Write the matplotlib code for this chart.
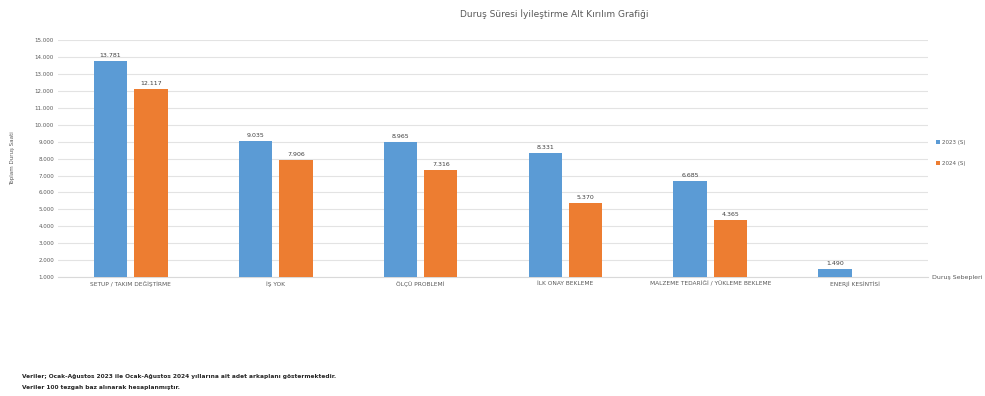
import matplotlib
matplotlib.use("Agg")
import matplotlib.pyplot as plt
import numpy as np

plt.rcParams['font.family'] = ['DejaVu Sans']

title = "Duruş Süresi İyileştirme Alt Kırılım Grafiği"
categories = [
    "SETUP / TAKIM DEĞİŞTİRME",
    "İŞ YOK",
    "ÖLÇÜ PROBLEMİ",
    "İLK ONAY BEKLEME",
    "MALZEME TEDARİĞİ / YÜKLEME BEKLEME",
    "ENERJİ KESİNTİSİ",
]
series_names = ["2023 (S)", "2024 (S)"]
values_2023 = [13781, 9035, 8965, 8331, 6685, 1490]
values_2024 = [12117, 7906, 7316, 5370, 4365, None]
y_ticks = list(range(1000, 16000, 1000))
y_label = "Toplam Duruş Saati"
x_field = "Duruş Sebepleri"
notes = [
    "Veriler; Ocak-Ağustos 2023 ile Ocak-Ağustos 2024 yıllarına ait adet arkaplanı göstermektedir.",
    "Veriler 100 tezgah baz alınarak hesaplanmıştır.",
]

blue = "#5B9BD5"
orange = "#ED7D31"
base = 1000

def fmt(v):
    return f"{v:,}".replace(",", ".")

fig = plt.figure(figsize=(9.85, 3.96), dpi=100)
ax = fig.add_axes([0.059, 0.30, 0.883, 0.599])

x = np.arange(len(categories))
w = 0.23
off = 0.14
for vals, color, dx, name in [(values_2023, blue, -off, series_names[0]),
                               (values_2024, orange, off, series_names[1])]:
    xs = [xi + dx for xi, v in zip(x, vals) if v is not None]
    hs = [v - base for v in vals if v is not None]
    ax.bar(xs, hs, width=w, bottom=base, color=color, label=name, zorder=3)
    for xi, v in zip(xs, [v for v in vals if v is not None]):
        ax.text(xi, v + 180, fmt(v), ha="center", va="bottom",
                fontsize=4.5, color="#404040", zorder=4)

ax.set_xlim(-0.5, len(categories) - 0.5)
ax.set_ylim(base, 15000)
ax.set_yticks(y_ticks)
ax.set_yticklabels([fmt(t) for t in y_ticks], fontsize=4, color="#595959")
ax.set_xticks(x)
ax.set_xticklabels(categories, fontsize=4.2, color="#595959")
ax.tick_params(axis="both", length=0, pad=3)
ax.grid(axis="y", color="#E3E3E3", linewidth=0.8, zorder=0)
for s in ["top", "right", "left"]:
    ax.spines[s].set_visible(False)
ax.spines["bottom"].set_color("#D9D9D9")
ax.spines["bottom"].set_linewidth(0.8)

ax.set_ylabel(y_label, fontsize=4, color="#595959", labelpad=14)

leg = fig.legend(loc="upper left", bbox_to_anchor=(0.945, 0.66), frameon=False,
                 fontsize=4, handlelength=0.7, handleheight=0.7,
                 labelspacing=3.0, handletextpad=0.5)
for t in leg.get_texts():
    t.set_color("#595959")

fig.text(0.946, 0.30, x_field, fontsize=4.5, color="#595959", va="center")
fig.text(0.563, 0.965, title, fontsize=6.5, color="#595959", ha="center", va="center")
fig.text(0.022, 0.045, notes[0], fontsize=4.2, color="#262626", fontweight="semibold")
fig.text(0.022, 0.018, notes[1], fontsize=4.2, color="#262626", fontweight="semibold")

fig.savefig("out.png", dpi=100)
